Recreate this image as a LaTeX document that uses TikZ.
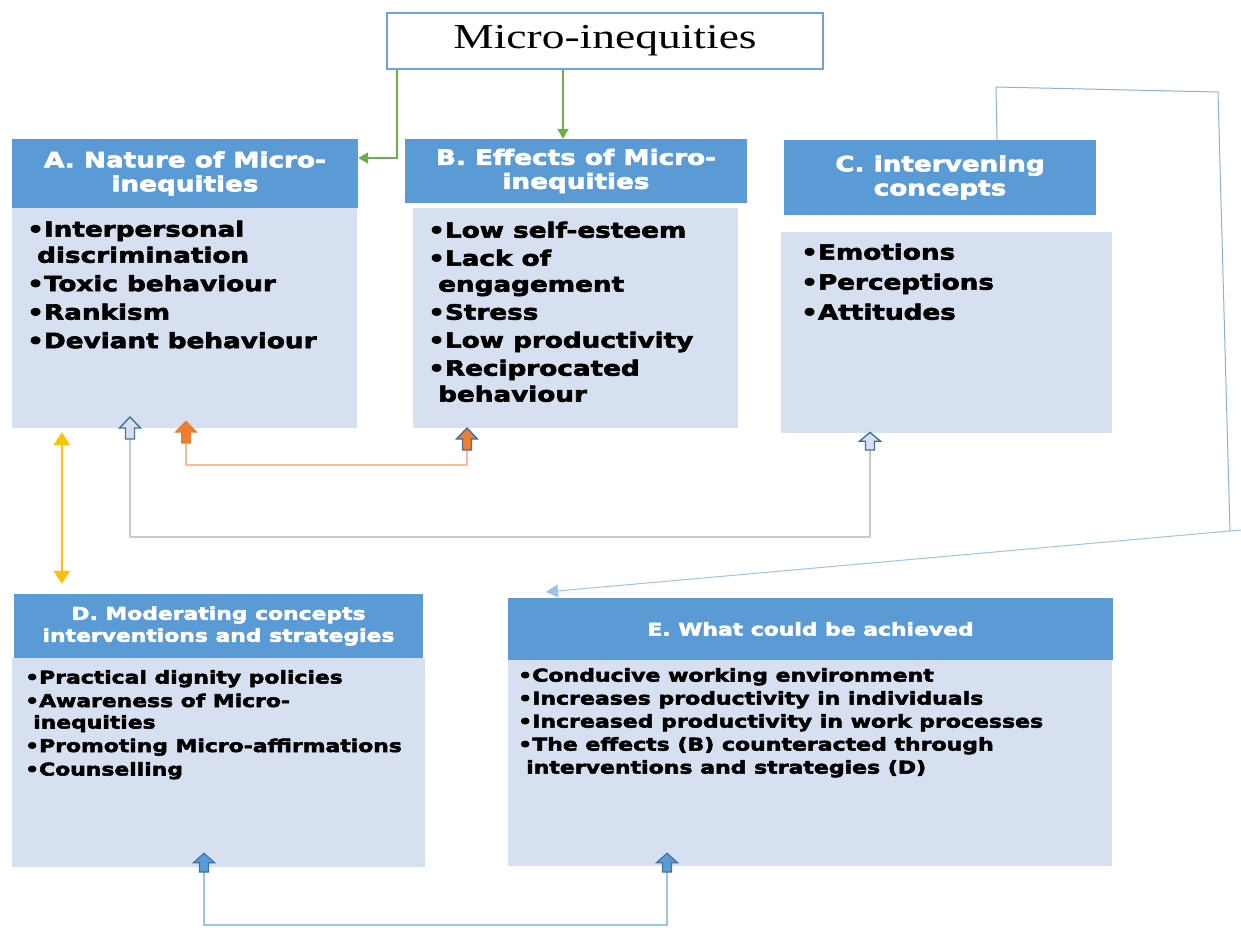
\documentclass[tikz,border=0pt]{standalone}
\usepackage{fontspec}
\usetikzlibrary{arrows.meta,calc}
\newfontfamily\bx{DejaVu Sans}[FakeStretch=1.25,FakeBold=3]
\newfontfamily\ser{Liberation Serif}[FakeStretch=1.3]
\definecolor{hdrc}{HTML}{5B9BD5}
\definecolor{bodyc}{HTML}{D6E0F0}
\definecolor{topc}{HTML}{6FA3D8}
\definecolor{grn}{HTML}{70AD47}
\definecolor{yel}{HTML}{FFC000}
\definecolor{org}{HTML}{ED7D31}
\definecolor{orgl}{HTML}{F6BE98}
\definecolor{gryl}{HTML}{CACACA}
\definecolor{blul}{HTML}{9DC3E6}
\definecolor{blud}{HTML}{41719C}
\begin{document}
\begin{tikzpicture}[x=1pt,y=-1pt,
  hdr/.style={fill=hdrc, text=white, align=center, inner sep=0pt,
    font=\bx\bfseries\fontsize{21}{24}\selectfont},
  hdrs/.style={hdr, font=\bx\bfseries\fontsize{17.5}{22}\selectfont},
  bodybox/.style={fill=bodyc, inner sep=0pt},
  btext/.style={anchor=north west, inner sep=0pt, align=left, text=black,
    font=\bx\bfseries\fontsize{21}{26}\selectfont},
  grnarr/.style={draw=grn, line width=2pt, -{Triangle[width=11pt,length=10pt]}},
  conn/.style={line width=1.3pt},
  uparr/.pic={\path[pic actions] (-4.5,0) -- (-4.5,-11) -- (-10.5,-11) -- (0,-22) -- (10.5,-11) -- (4.5,-11) -- (4.5,0) -- cycle;}
]
\useasboundingbox[fill=white] (0,0) rectangle (1241,927);

% top box
\node[draw=topc, line width=2pt, fill=white, minimum width=436pt, minimum height=56pt,
  inner sep=0pt, font=\ser\fontsize{35}{38}\selectfont] (Top) at (605,41) {Micro-inequities};

% headers
\node[hdr, minimum width=346pt, minimum height=69pt] (Ah) at (185,173.5) {A. Nature of Micro-\\inequities};
\node[hdr, minimum width=342pt, minimum height=64pt] (Bh) at (576,171) {B. Effects of Micro-\\inequities};
\node[hdr, minimum width=312pt, minimum height=75pt] (Ch) at (940,177.5) {C. intervening\\concepts};
\node[hdrs, minimum width=409pt, minimum height=64pt] (Dh) at (218.5,626) {D. Moderating concepts\\interventions and strategies};
\node[hdrs, minimum width=605pt, minimum height=62pt] (Eh) at (810.5,629) {E. What could be achieved};

% bodies
\node[bodybox, minimum width=345pt, minimum height=220pt] (Ab) at (184.5,318) {};
\node[bodybox, minimum width=325pt, minimum height=220pt] (Bb) at (575.5,318) {};
\node[bodybox, minimum width=331pt, minimum height=201pt] (Cb) at (946.5,332.5) {};
\node[bodybox, minimum width=413pt, minimum height=209pt] (Db) at (218.5,762.5) {};
\node[bodybox, minimum width=604pt, minimum height=206pt] (Eb) at (810,763) {};

% body texts
\node[btext] (At) at (27,220.5) {•Interpersonal\\\hspace*{10pt}discrimination\\[2.5pt]•Toxic behaviour\\[2.5pt]•Rankism\\[2.5pt]•Deviant behaviour};
\node[btext] (Bt) at (428,221.5) {•Low self-esteem\\[2pt]•Lack of\\\hspace*{10pt}engagement\\[2pt]•Stress\\[2pt]•Low productivity\\[2pt]•Reciprocated\\\hspace*{10pt}behaviour};
\node[btext] (Ct) at (801,243.5) {•Emotions\\[4pt]•Perceptions\\[4pt]•Attitudes};
\node[btext, font=\bx\bfseries\fontsize{17.5}{21.5}\selectfont] (Dt) at (25,670) {•Practical dignity policies\\[2pt]•Awareness of Micro-\\\hspace*{8pt}inequities\\[2pt]•Promoting Micro-affirmations\\[2pt]•Counselling};
\node[btext, font=\bx\bfseries\fontsize{17.6}{23}\selectfont] (Et) at (518,668) {•Conducive working environment\\•Increases productivity in individuals\\•Increased productivity in work processes\\•The effects (B) counteracted through\\\hspace*{8pt}interventions and strategies (D)};

% green arrows
\draw[grnarr] ([xshift=11pt]Top.south west) |- ([yshift=15.5pt]Ah.east);
\draw[grnarr] ([xshift=-42pt]Top.south) -- ([xshift=-42pt]Top.south |- Bh.north);

% yellow double arrow
\draw[draw=yel, line width=2.5pt, {Triangle[width=16pt,length=13pt]}-{Triangle[width=16pt,length=13pt]},
  shorten <=4pt, shorten >=10pt] ([xshift=50pt]Ab.south west) -- ([xshift=48pt]Dh.north west);

% block arrows (bottom points)
\coordinate (aA1) at (130,439);
\coordinate (aA2) at (186,443);
\coordinate (aB)  at (467,450);
\coordinate (aC)  at (870,450);
\coordinate (aD)  at (204,872);
\coordinate (aE)  at (667,872);

% connectors
\draw[conn, draw=orgl] (aA2) -- (186,465) -| (aB);
\draw[conn, draw=gryl] (aA1) -- (130,537) -| (aC);
\draw[conn, draw=blul] (aD) -- (204,925) -| (aE);

\coordinate (p1) at (996,87);
\coordinate (p2) at (1218,92);
\coordinate (p3) at (1230,532);
\coordinate (p4) at (1241,530);
\coordinate (tipE) at (546,592);
\draw[line width=1pt, draw=blul!80!blud] ([xshift=57pt]Ch.north) -- (p1) -- (p2) -- (p3);
\draw[line width=1pt, draw=blul, -{Triangle[width=13pt,length=12pt,fill=blul]}] (p4) -- (tipE);

\pic[draw=blud, fill=bodyc, line width=1.4pt] at (aA1) {uparr};
\pic[draw=org, fill=org, line width=1pt] at (aA2) {uparr};
\pic[draw=blud, fill=org, line width=1.4pt] at (aB) {uparr};
\pic[draw=blud, fill=bodyc, line width=1.4pt, yscale=0.8] at (aC) {uparr};
\pic[draw=blud, fill=hdrc, line width=1.2pt, yscale=0.85] at (aD) {uparr};
\pic[draw=blud, fill=hdrc, line width=1.2pt, yscale=0.85] at (aE) {uparr};
\end{tikzpicture}
\end{document}
